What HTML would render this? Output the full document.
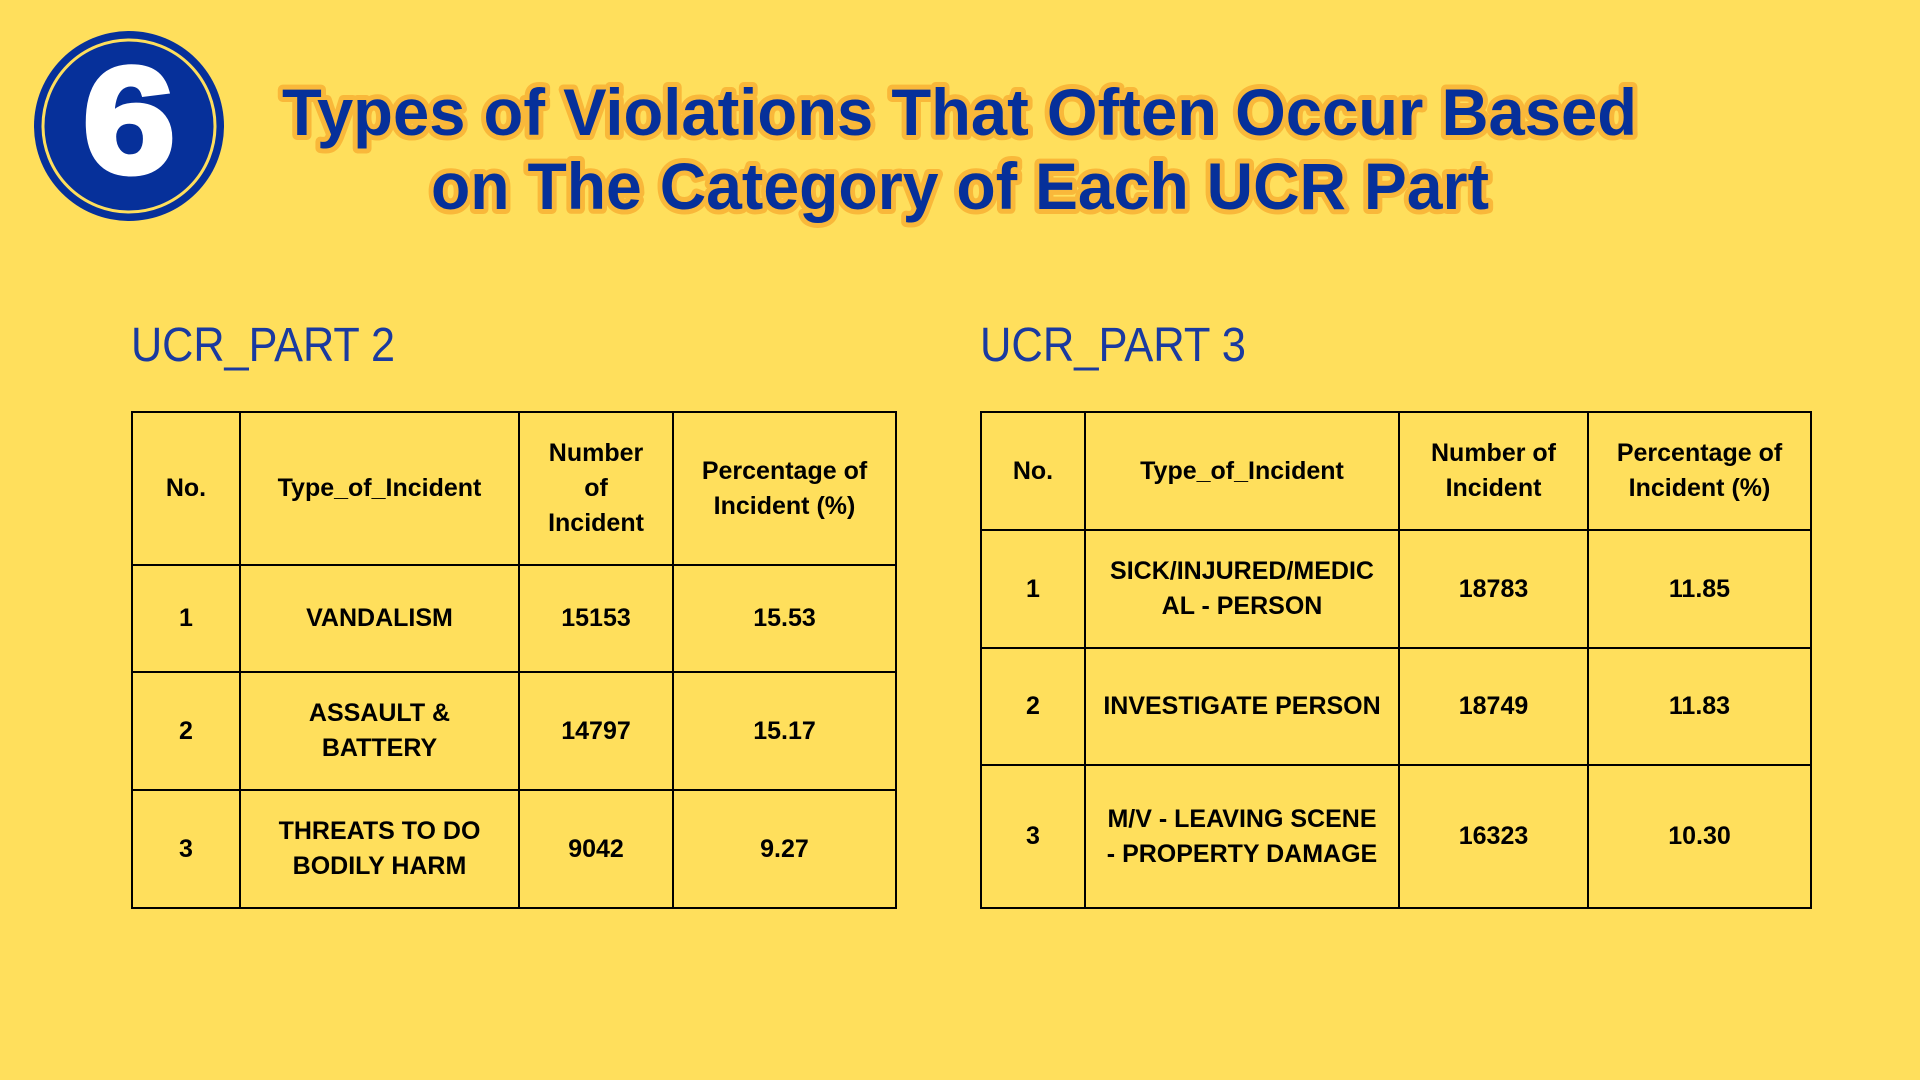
<!DOCTYPE html>
<html><head><meta charset="utf-8">
<style>
html,body{margin:0;padding:0}
body{width:1920px;height:1080px;background:#ffdf5c;position:relative;overflow:hidden;font-family:"Liberation Sans",sans-serif}
.abs{position:absolute}
table{position:absolute;border-collapse:collapse;table-layout:fixed}
td{border:2.5px solid #000;text-align:center;vertical-align:middle;font-family:"Liberation Sans Narrow","Liberation Sans",sans-serif;font-weight:bold;font-size:25px;line-height:35px;color:#000;padding:0 6px}
</style></head><body>
<svg class="abs" style="left:0;top:0" width="1920" height="260">
  <g>
    <circle cx="129" cy="126" r="95" fill="#06309a"/>
    <circle cx="129" cy="126" r="86" fill="none" stroke="#ffdf5c" stroke-width="3"/>
    <text x="129" y="172" text-anchor="middle" font-family="Liberation Sans" font-weight="bold" font-size="150" fill="#fff" stroke="#fff" stroke-width="6" textLength="92" lengthAdjust="spacingAndGlyphs">6</text>
  </g>
  <g font-family="Liberation Sans" font-weight="bold" font-size="66" fill="#06309a" stroke="#f9b83a" stroke-width="10" paint-order="stroke" stroke-linejoin="round">
    <text x="282" y="135" textLength="1355" lengthAdjust="spacingAndGlyphs">Types of Violations That Often Occur Based</text>
    <text x="431" y="209" textLength="1058" lengthAdjust="spacingAndGlyphs">on The Category of Each UCR Part</text>
  </g>
</svg>
<svg class="abs" style="left:0;top:260px" width="1920" height="120">
  <text x="131" y="101" font-family="Liberation Sans Narrow, Liberation Sans" font-size="48" fill="#1a3aa0" textLength="264" lengthAdjust="spacingAndGlyphs">UCR_PART 2</text>
  <text x="980" y="101" font-family="Liberation Sans Narrow, Liberation Sans" font-size="48" fill="#1a3aa0" textLength="266" lengthAdjust="spacingAndGlyphs">UCR_PART 3</text>
</svg>

<table style="left:131px;top:411px;width:764px;height:496px">
  <colgroup><col style="width:108px"><col style="width:279px"><col style="width:154px"><col style="width:223px"></colgroup>
  <tr style="height:153px"><td>No.</td><td>Type_of_Incident</td><td>Number<br>of<br>Incident</td><td>Percentage of<br>Incident (%)</td></tr>
  <tr style="height:107px"><td>1</td><td>VANDALISM</td><td>15153</td><td>15.53</td></tr>
  <tr style="height:118px"><td>2</td><td>ASSAULT &amp;<br>BATTERY</td><td>14797</td><td>15.17</td></tr>
  <tr style="height:118px"><td>3</td><td>THREATS TO DO<br>BODILY HARM</td><td>9042</td><td>9.27</td></tr>
</table>

<table style="left:980px;top:411px;width:830px;height:496px">
  <colgroup><col style="width:104px"><col style="width:314px"><col style="width:189px"><col style="width:223px"></colgroup>
  <tr style="height:118px"><td>No.</td><td>Type_of_Incident</td><td>Number of<br>Incident</td><td>Percentage of<br>Incident (%)</td></tr>
  <tr style="height:118px"><td>1</td><td>SICK/INJURED/MEDIC<br>AL - PERSON</td><td>18783</td><td>11.85</td></tr>
  <tr style="height:117px"><td>2</td><td>INVESTIGATE PERSON</td><td>18749</td><td>11.83</td></tr>
  <tr style="height:143px"><td>3</td><td>M/V - LEAVING SCENE<br>- PROPERTY DAMAGE</td><td>16323</td><td>10.30</td></tr>
</table>
</body></html>
